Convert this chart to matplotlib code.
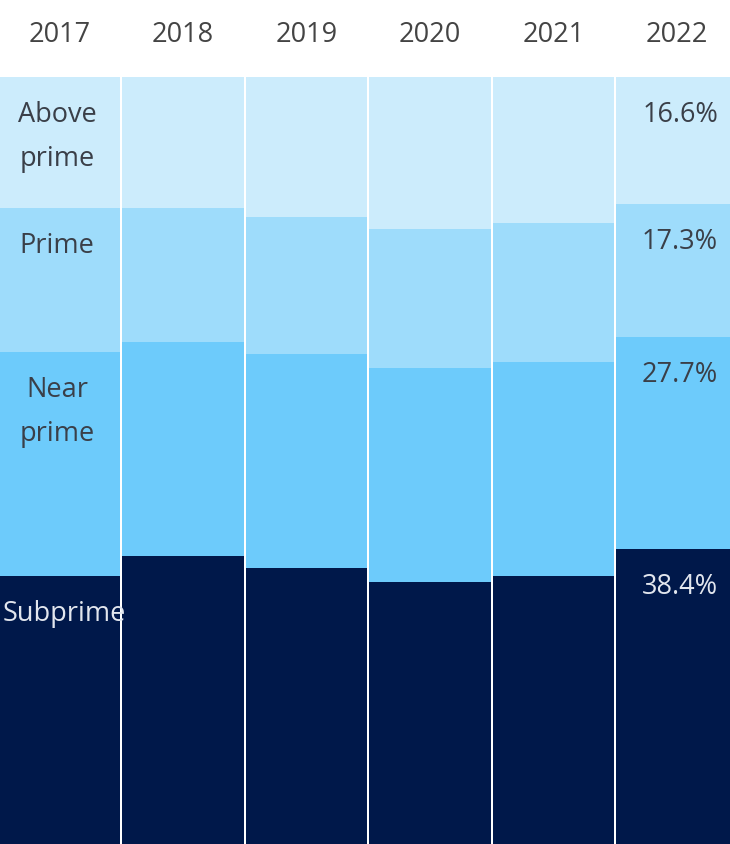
import matplotlib
matplotlib.use("Agg")
import matplotlib.pyplot as plt

plt.rcParams['font.family'] = ['Open Sans', 'DejaVu Sans']

years = ["2017", "2018", "2019", "2020", "2021", "2022"]
# shares in percent, stacked bottom to top
subprime = [34.9, 37.5, 36.0, 34.2, 34.9, 38.4]
near_prime = [29.2, 27.9, 27.9, 27.9, 28.0, 27.7]
prime = [18.8, 17.5, 17.9, 18.1, 18.0, 17.3]
above_prime = [17.1, 17.1, 18.2, 19.8, 19.1, 16.6]

series = [
    ("Subprime", subprime, "#00184a", "#e2e6ee"),
    ("Near\nprime", near_prime, "#6dcbfb", "#3a3f48"),
    ("Prime", prime, "#9edcfb", "#3a3f48"),
    ("Above\nprime", above_prime, "#ccecfc", "#3a3f48"),
]

PX = 72 / 100  # points per pixel at dpi 100
FS = 19.5

fig = plt.figure(figsize=(7.3, 8.44), dpi=100)
ax = fig.add_axes([0, 0, 1, 767 / 844])

x = list(range(len(years)))
bottom = [0.0] * len(years)
for name, vals, color, tcolor in series:
    ax.bar(x, vals, bottom=bottom, width=0.983, color=color, linewidth=0)
    tops = [b + v for b, v in zip(bottom, vals)]
    # category name on the first column, one line at a time;
    # "Subprime" is wider than the bar so it starts at the left edge
    for k, line in enumerate(name.split("\n")):
        if line == "Subprime":
            ax.annotate(line, xy=(-0.48, tops[0]), xytext=(3 * PX, -45 * PX),
                        textcoords="offset points", ha="left", va="baseline",
                        fontsize=FS, color=tcolor)
            continue
        ax.annotate(line, xy=(0, tops[0]), xytext=(-2 * PX, -(45 + 44 * k) * PX),
                    textcoords="offset points", ha="center", va="baseline",
                    fontsize=FS, color=tcolor)
    # value on the last column
    ax.annotate(f"{vals[-1]:.1f}%", xy=(5.43, tops[-1]), xytext=(-12 * PX, -45 * PX),
                textcoords="offset points", ha="right", va="baseline",
                fontsize=FS, color=tcolor)
    bottom = tops

for i, yr in enumerate(years):
    ax.annotate(yr, xy=(i, 100), xytext=(0, 35 * PX), textcoords="offset points",
                ha="center", va="baseline", fontsize=FS, color="#444444",
                annotation_clip=False)

ax.set_xlim(-0.48, 5.43)
ax.set_ylim(0, 100)
ax.axis("off")

fig.savefig("out.png", dpi=100)
